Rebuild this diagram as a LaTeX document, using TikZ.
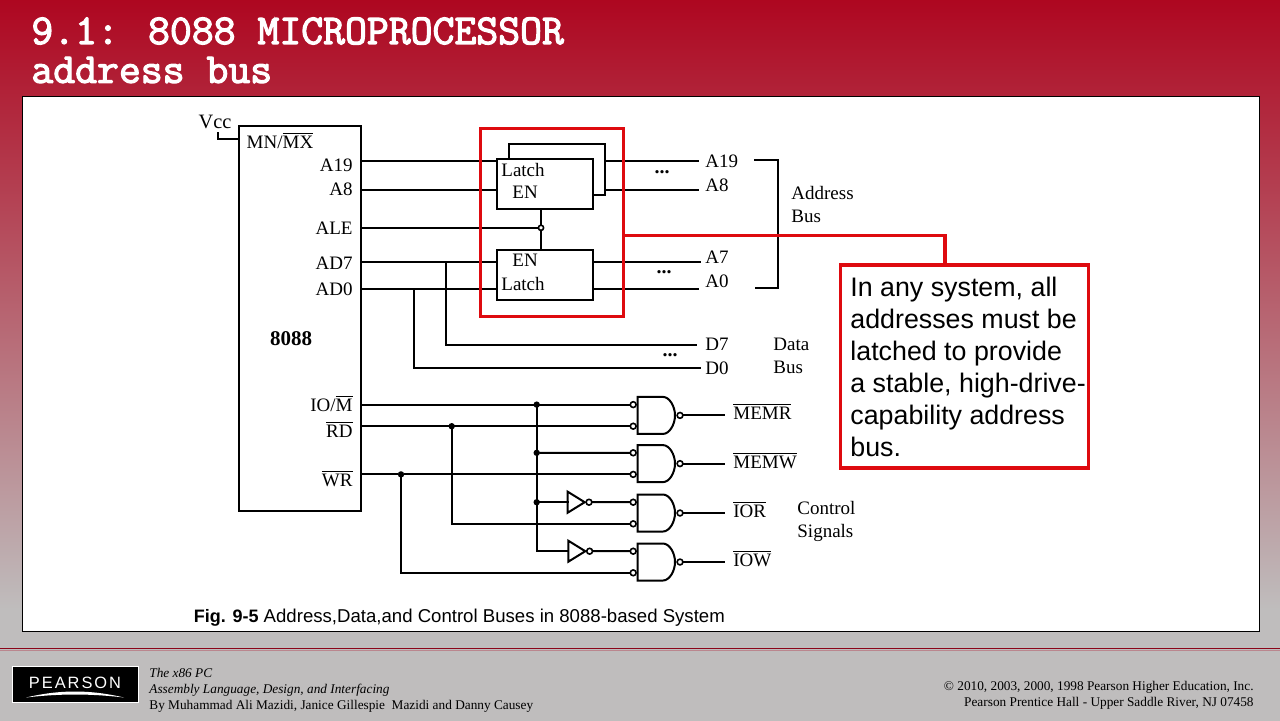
\documentclass[tikz,border=0pt]{standalone}
\usepackage{fontspec}
\setmainfont{Liberation Serif}
\setsansfont{Liberation Sans}
\newfontfamily\titlefont[FakeBold=2.8]{Latin Modern Mono}
\newfontfamily\logofont[LetterSpace=12]{Liberation Sans}
\definecolor{slidered}{HTML}{AE051F}
\definecolor{slidegray}{HTML}{BFBDBD}
\definecolor{calloutred}{HTML}{DE0A0F}
\newcommand{\ovl}[1]{$\overline{\hbox{#1}}$}
\tikzset{
  wire/.style={line width=1pt, line cap=rect},
  redline/.style={line width=1.6pt, draw=calloutred},
  pinlab/.style={font=\fontsize{9.5}{11}\selectfont, inner sep=0pt},
  titlelab/.style={anchor=west, inner sep=0pt, text=white, font=\titlefont\fontsize{21.25}{23}\selectfont},
  latchbox/.style={draw, line width=1pt, minimum width=48pt, minimum height=25pt, inner sep=0pt},
  bubble/.style={circle, draw, fill=white, line width=0.8pt, inner sep=0pt, minimum size=2.9pt},
  junction/.style={circle, fill=black, inner sep=0pt, minimum size=3.2pt},
  footlab/.style={font=\fontsize{6.65}{8}\selectfont, inner sep=0pt},
  nandpic/.pic={
    \draw[wire] (-18.8,-18.5) -- (6.5,-18.5) .. controls (13,-18.5) and (18.5,-9) .. (18.5,0)
      .. controls (18.5,9) and (13,18.5) .. (6.5,18.5) -- (-18.8,18.5) -- cycle;
    \node (-bubA) at (-23.3,-10.8) [bubble] {};
    \node (-bubB) at (-23.3,10.8) [bubble] {};
    \node (-bubO) at (23.5,0) [bubble] {};
  },
  notpic/.pic={
    \draw[wire] (-10,-10.5) -- (7,0) -- (-10,10.5) -- cycle;
    \coordinate (-in) at (-10,0);
    \node (-bubO) at (11.3,0) [bubble] {};
  },
}

\begin{document}
\begin{tikzpicture}[x=0.5pt, y=-0.5pt]
\useasboundingbox (0,0.5) rectangle (1280,720.5);
% slide background
\fill[slidegray] (-5,-5) rectangle (1285,725);
\fill[top color=slidered, bottom color=slidegray] (-5,-5) rectangle (1285,610);
\fill[white] (22,97) rectangle (1259,632);
\draw[line width=0.5pt] (22,97) rectangle (1259,632);
\draw[line width=0.5pt, draw=slidered!80!black] (-5,649) -- (1285,649);
\draw[line width=0.7pt, draw=slidered!30!slidegray] (-5,651) -- (1285,651);

\node (title1) at (31,31.5) [titlelab] {9.1: 8088 MICROPROCESSOR};
\node (title2) at (31,70.5) [titlelab] {address bus};

% 8088 chip
\node (chip) at (300,318.5) [draw, line width=1pt, minimum width=60.7pt, minimum height=192.5pt, inner sep=0pt] {};
\node (vcc) at (215,122) [pinlab, font=\fontsize{10.2}{12}\selectfont] {Vcc};
\node (mnmx) at (280,141) [pinlab] {MN/\ovl{MX}};
\node (cpu) at (291,339) [pinlab, font=\fontsize{10.5}{12}\selectfont\bfseries] {8088};
\node (lA19) at (353,166) [pinlab, anchor=east] {A19};
\node (lA8) at (353,190) [pinlab, anchor=east] {A8};
\node (lALE) at (353,229) [pinlab, anchor=east] {ALE};
\node (lAD7) at (353,264) [pinlab, anchor=east] {AD7};
\node (lAD0) at (353,290) [pinlab, anchor=east] {AD0};
\node (lIOM) at (353,404) [pinlab, anchor=east] {IO/\ovl{M}};
\node (lRD) at (353,430) [pinlab, anchor=east] {\ovl{RD}};
\node (lWR) at (353,479) [pinlab, anchor=east] {\ovl{WR}};

% latches
\node (latchU) at (545.3,184.3) [latchbox] {};
\node (latchL) at (545.3,275.7) [latchbox] {};
\node (tLatchU) at (501,170) [pinlab, anchor=west] {Latch};
\node (tEnU) at (512,193) [pinlab, anchor=west] {EN};
\node (tEnL) at (512,261) [pinlab, anchor=west] {EN};
\node (tLatchL) at (501,284) [pinlab, anchor=west] {Latch};

\coordinate (pVcc) at (218.3,133);
\coordinate (pMN) at (239.3,139.3);
\coordinate (pA19) at (360.7,161.3);
\coordinate (pA8) at (360.7,190.3);
\coordinate (pALE) at (360.7,228.3);
\coordinate (pAD7) at (360.7,262.3);
\coordinate (pAD0) at (360.7,289.3);
\coordinate (pIOM) at (360.7,405.1);
\coordinate (pRD) at (360.7,426.7);
\coordinate (pWR) at (360.7,474.9);
\coordinate (fbA) at (509.3,144.7);
\coordinate (fbB) at (605,144.7);
\coordinate (fbC) at (605,195);
\coordinate (oA19) at (698,161.3);
\coordinate (oA8) at (698,190.3);
\coordinate (oA7) at (700,262.3);
\coordinate (oA0) at (698,289.3);
\coordinate (oD7) at (696,345.7);
\coordinate (oD0) at (700,368.7);
\coordinate (tapD7) at (446,262.3);
\coordinate (tapD0) at (414,289.3);
\coordinate (enTop) at (541,209.3);
\coordinate (enBot) at (541,250.7);

\node (aleBub) at (541,228.3) [bubble, minimum size=2.6pt] {};

\draw[wire] (pVcc) |- (pMN);
\draw[wire] (pA19) -- (pA19 -| latchU.west);
\draw[wire] (pA8) -- (pA8 -| latchU.west);
\draw[wire] (pAD7) -- (pAD7 -| latchL.west);
\draw[wire] (pAD0) -- (pAD0 -| latchL.west);
\draw[wire] (pALE) -- (aleBub);
\draw[wire] (enTop) -- (aleBub);
\draw[wire] (enBot) -- (aleBub);
\draw[wire] (fbA |- latchU.north) -- (fbA) -- (fbB) -- (fbC) -- (fbC -| latchU.east);
\draw[wire] (fbB |- oA19) -- (oA19);
\draw[wire] (fbB |- oA8) -- (oA8);
\draw[wire] (oA7 -| latchL.east) -- (oA7);
\draw[wire] (oA0 -| latchL.east) -- (oA0);
\draw[wire] (tapD7) |- (oD7);
\draw[wire] (tapD0) |- (oD0);

\node (lOA19) at (705,162) [pinlab, anchor=west] {A19};
\node (lOA8) at (705,186) [pinlab, anchor=west] {A8};
\node (lOA7) at (705,258) [pinlab, anchor=west] {A7};
\node (lOA0) at (705,282) [pinlab, anchor=west] {A0};
\node (lOD7) at (705,345) [pinlab, anchor=west] {D7};
\node (lOD0) at (705,369) [pinlab, anchor=west] {D0};
\node (dotsA) at (662,173) [pinlab, font=\bfseries\fontsize{10}{12}\selectfont] {...};
\node (dotsB) at (664,273) [pinlab, font=\bfseries\fontsize{10}{12}\selectfont] {...};
\node (dotsC) at (670,356) [pinlab, font=\bfseries\fontsize{10}{12}\selectfont] {...};

% bus brackets and names
\coordinate (brTop) at (755,160);
\coordinate (brBot) at (756,288.3);
\coordinate (brMid) at (777.7,160);
\draw[wire] (brTop) -- (brMid) -- (brMid |- brBot) -- (brBot);
\node (addrBus) at (791,204.5) [pinlab, anchor=west, align=left] {Address\\[0.5pt]Bus};
\node (dataBus) at (773,356.5) [pinlab, anchor=west, align=left] {Data\\[0.5pt]Bus};
\node (ctrlSig) at (797,522) [pinlab, anchor=west, align=left] {Control\\[0.5pt]Signals};

% control logic
\pic (gMemr) at (656.5,415.9) {nandpic};
\pic (gMemw) at (656.5,464.1) {nandpic};
\pic (gIor) at (656.5,513.5) {nandpic};
\pic (gIow) at (656.5,562.5) {nandpic};
\pic (invA) at (577.7,502.7) {notpic};
\pic (invB) at (578.3,551.7) {notpic};

\node (jA) at (536.7,405.1) [junction] {};
\node (jB) at (451.7,426.7) [junction] {};
\node (jC) at (401,474.9) [junction] {};
\node (jD) at (536.7,453.3) [junction] {};
\node (jE) at (536.7,502.7) [junction] {};

\draw[wire] (pIOM) -- (jA) -- (gMemr-bubA);
\draw[wire] (pRD) -- (jB) -- (gMemr-bubB);
\draw[wire] (pWR) -- (jC) -- (gMemw-bubB);
\draw[wire] (jD) -- (gMemw-bubA);
\draw[wire] (jA) -- (jD) -- (jE) |- (invB-in);
\draw[wire] (jE) -- (invA-in);
\draw[wire] (invA-bubO) -- (gIor-bubA);
\draw[wire] (invB-bubO) -- (gIow-bubA);
\draw[wire] (jB) |- (gIor-bubB);
\draw[wire] (jC) |- (gIow-bubB);

\coordinate (oMemr) at (724,415.9);
\coordinate (oMemw) at (724,464.1);
\coordinate (oIor) at (724,513.5);
\coordinate (oIow) at (724,562.5);
\draw[wire] (gMemr-bubO) -- (oMemr);
\draw[wire] (gMemw-bubO) -- (oMemw);
\draw[wire] (gIor-bubO) -- (oIor);
\draw[wire] (gIow-bubO) -- (oIow);
\node (lMemr) at (733,412) [pinlab, anchor=west] {\ovl{MEMR}};
\node (lMemw) at (733,461) [pinlab, anchor=west] {\ovl{MEMW}};
\node (lIor) at (733,510) [pinlab, anchor=west] {\ovl{IOR}};
\node (lIow) at (733,559) [pinlab, anchor=west] {\ovl{IOW}};

\node (caption) at (193.5,618) [anchor=west, inner sep=0pt, font=\sffamily\fontsize{9.3}{10}\selectfont] {{\fontsize{9}{10}\selectfont\textbf{Fig. 9-5}} Address,Data,and Control Buses in 8088-based System};

% red highlight and callout
\node (hilite) at (552,223.3) [redline, draw, minimum width=71.3pt, minimum height=94pt, inner sep=0pt] {};
\node (callout) at (964.5,367) [redline, draw, fill=white, minimum width=124pt, minimum height=101.5pt, inner sep=0pt] {};
\node (calltext) at (850,367.5) [anchor=west, inner sep=0pt, align=left, font=\sffamily\fontsize{13.4}{16}\selectfont] {In any system, all\\addresses must be\\latched to provide\\a stable, high-drive-\\capability address\\bus.};
\coordinate (hook) at (945,236.3);
\draw[redline] (hilite.east |- hook) -- (hook) -- (hook |- callout.north);

% footer
\node (logo) at (75,685) [draw=white, line width=0.4pt, fill=black, minimum width=63pt, minimum height=18pt, inner sep=0pt] {};
\node (logotext) at (75,683) [inner sep=0pt, text=white, font=\logofont\fontsize{8.2}{9}\selectfont] {PEARSON};
\fill[white] (26,698) .. controls (60,690) and (90,690) .. (124,698) .. controls (90,694) and (60,694) .. (26,698) -- cycle;
\node (bookA) at (149,673) [footlab, anchor=west] {\itshape The x86 PC};
\node (bookB) at (149,691) [footlab, anchor=west] {\itshape Assembly Language, Design, and Interfacing};
\node (bookC) at (149,707) [footlab, anchor=west] {By Muhammad Ali Mazidi, Janice Gillespie\ \ Mazidi and Danny Causey};
\node (copyA) at (1254,688) [footlab, anchor=east] {© 2010, 2003, 2000, 1998 Pearson Higher Education, Inc.};
\node (copyB) at (1254,704) [footlab, anchor=east] {Pearson Prentice Hall - Upper Saddle River, NJ 07458};
\end{tikzpicture}
\end{document}
